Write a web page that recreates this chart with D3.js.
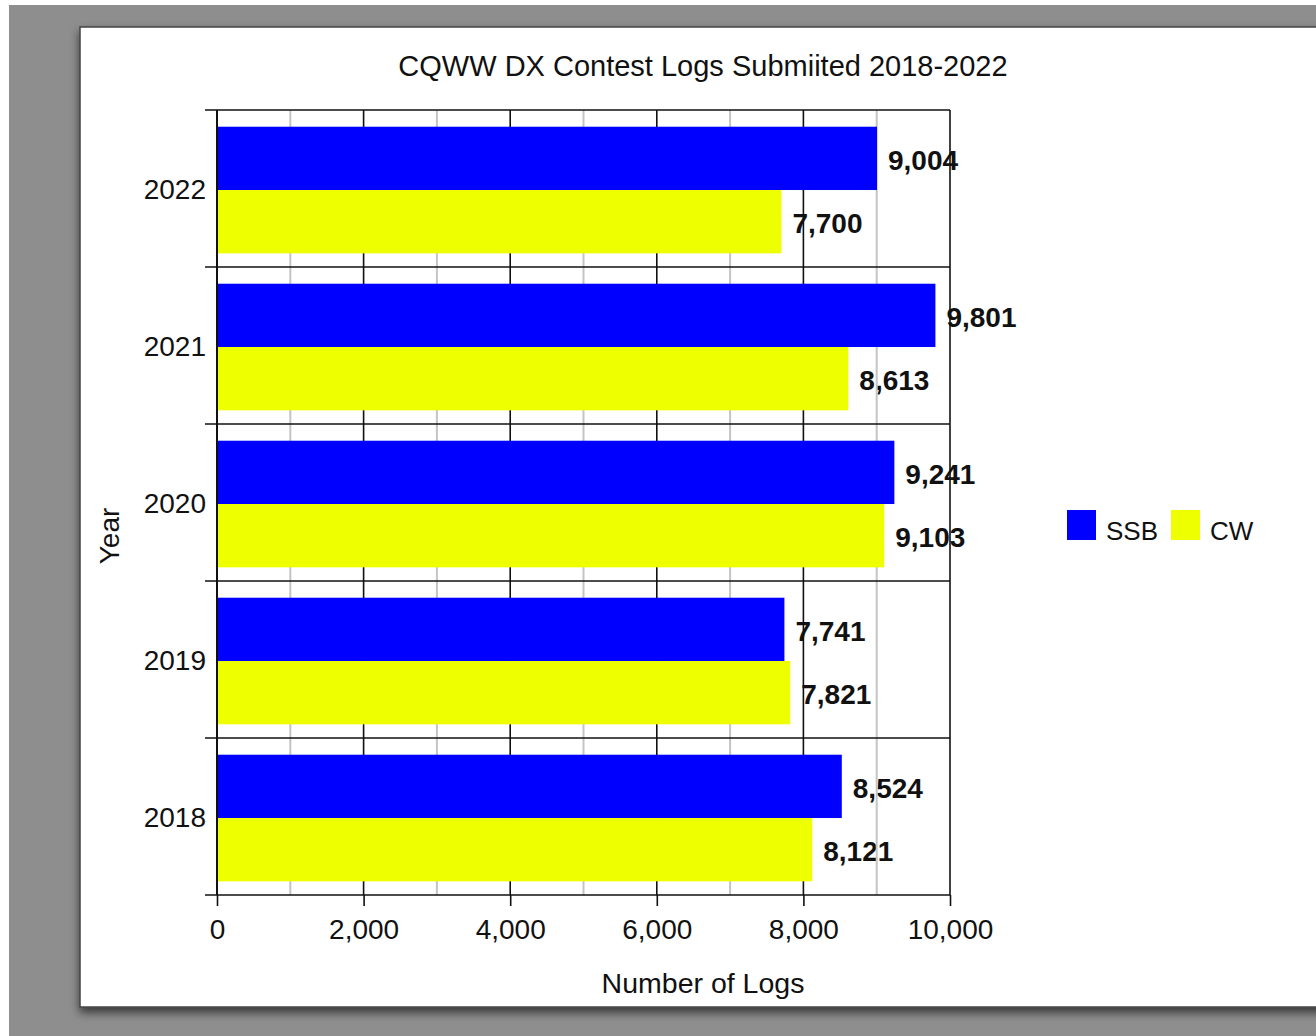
<!DOCTYPE html>
<html>
<head>
<meta charset="utf-8">
<script src="https://cdn.jsdelivr.net/npm/d3@7"></script>
<style>
  body { margin: 0; background: #fff; }
  text { font-family: "Liberation Sans", Arial, sans-serif; fill: #111; }
</style>
</head>
<body>
<div id="chart"></div>
<script>
const years = ['2018', '2019', '2020', '2021', '2022']
const seriesNames = ['SSB', 'CW']
const ssbLogs = [8524, 7741, 9241, 9801, 9004]
const cwLogs = [8121, 7821, 9103, 8613, 7700]
const majorTicks = [0, 2000, 4000, 6000, 8000, 10000]
const minorTicks = [1000, 3000, 5000, 7000, 9000]

const segColor = ['#0000ff', '#eeff00']
const W = 1316
const H = 1036
const plot = { left: 217, right: 950, top: 110, bottom: 895 }

const rows = years.map((yr, i) => ({ year: yr, values: [ssbLogs[i], cwLogs[i]] }))

const svg = d3.select('#chart').append('svg')
  .attr('width', W)
  .attr('height', H)

// panel shadow
const defs = svg.append('defs')
const f = defs.append('filter').attr('id', 'shadow')
  .attr('x', '-5%').attr('y', '-5%').attr('width', '110%').attr('height', '112%')
f.append('feDropShadow').attr('dx', 0).attr('dy', 5).attr('stdDeviation', 5)
  .attr('flood-color', '#000').attr('flood-opacity', 0.6)

svg.append('rect').attr('x', 9).attr('y', 5).attr('width', W).attr('height', H)
  .attr('fill', '#8e8e8e')
svg.append('rect').attr('x', 80).attr('y', 27).attr('width', 1300).attr('height', 980)
  .attr('fill', '#fff').attr('stroke', '#444').attr('stroke-width', 1.5)
  .attr('filter', 'url(#shadow)')

const x = d3.scaleLinear().domain([0, 10000]).range([plot.left, plot.right])
const y = d3.scaleBand().domain(years.slice().reverse()).range([plot.top, plot.bottom])
const ySub = d3.scaleBand().domain(seriesNames).range([0, y.bandwidth()])
  .paddingOuter(0.24).align(0.55)

// value labels (under the grid, like the original)
const labelGroups = svg.append('g').selectAll('g')
  .data(rows)
  .enter().append('g')
  .attr('transform', d => 'translate(0,' + y(d.year) + ')')

labelGroups.selectAll('text')
  .data(d => d.values)
  .enter().append('text')
  .attr('x', d => x(d) + 11)
  .attr('y', (d, i) => ySub(seriesNames[i]) + ySub.bandwidth() / 2)
  .attr('dy', '.4em')
  .style('font-size', '28px')
  .style('font-weight', 'bold')
  .text(d => d3.format(',')(d))

// grid
svg.selectAll('.minor')
  .data(minorTicks)
  .enter().append('line')
  .attr('class', 'minor')
  .attr('x1', d => x(d)).attr('x2', d => x(d))
  .attr('y1', plot.top).attr('y2', plot.bottom)
  .attr('stroke', '#c4c4c4').attr('stroke-width', 2)

svg.selectAll('.major')
  .data(majorTicks)
  .enter().append('line')
  .attr('class', 'major')
  .attr('x1', d => x(d)).attr('x2', d => x(d))
  .attr('y1', plot.top).attr('y2', plot.bottom)
  .attr('stroke', '#111').attr('stroke-width', 1.6)

const bounds = years.map(yr => y(yr)).concat([plot.bottom])
svg.selectAll('.hline')
  .data(bounds)
  .enter().append('line')
  .attr('class', 'hline')
  .attr('x1', plot.left - 12).attr('x2', plot.right)
  .attr('y1', d => d).attr('y2', d => d)
  .attr('stroke', '#111').attr('stroke-width', 1.6)

// bars, on top of the grid
const barGroups = svg.append('g').selectAll('g')
  .data(rows)
  .enter().append('g')
  .attr('transform', d => 'translate(0,' + y(d.year) + ')')

barGroups.selectAll('rect')
  .data(d => d.values)
  .enter().append('rect')
  .attr('x', x(0))
  .attr('y', (d, i) => ySub(seriesNames[i]))
  .attr('width', d => x(d) - x(0))
  .attr('height', ySub.bandwidth())
  .attr('fill', (d, i) => segColor[i])

// left border back on top of bars
svg.append('line')
  .attr('x1', plot.left).attr('x2', plot.left)
  .attr('y1', plot.top).attr('y2', plot.bottom)
  .attr('stroke', '#111').attr('stroke-width', 2)

// year labels
svg.selectAll('.ylab')
  .data(years)
  .enter().append('text')
  .attr('class', 'ylab')
  .attr('x', plot.left - 11)
  .attr('y', d => y(d) + y.bandwidth() / 2)
  .attr('dy', '.36em')
  .attr('text-anchor', 'end')
  .style('font-size', '28px')
  .text(d => d)

// x axis
const xAxis = d3.axisBottom(x)
  .tickValues(majorTicks)
  .tickSize(11)
  .tickPadding(13)
  .tickFormat(d3.format(','))

const ax = svg.append('g')
  .attr('transform', 'translate(0,' + plot.bottom + ')')
  .call(xAxis)
ax.select('.domain').remove()
ax.selectAll('line').attr('stroke', '#111').attr('stroke-width', 1.6)
ax.selectAll('text').style('font-size', '28px').style('font-family', '"Liberation Sans", Arial, sans-serif').attr('fill', '#111')

// titles
svg.append('text')
  .attr('x', 703).attr('y', 76)
  .attr('text-anchor', 'middle')
  .style('font-size', '29px')
  .text('CQWW DX Contest Logs Submiited 2018-2022')

svg.append('text')
  .attr('x', 703).attr('y', 993)
  .attr('text-anchor', 'middle')
  .style('font-size', '28.5px')
  .text('Number of Logs')

svg.append('text')
  .attr('transform', 'translate(119,536) rotate(-90)')
  .attr('text-anchor', 'middle')
  .style('font-size', '28px')
  .text('Year')

// legend
const legend = svg.selectAll('.legend')
  .data(seriesNames)
  .enter().append('g')
  .attr('class', 'legend')
  .attr('transform', (d, i) => 'translate(' + (1067 + i * 104) + ',510)')

legend.append('rect')
  .attr('width', 29).attr('height', 30)
  .attr('fill', (d, i) => segColor[i])

legend.append('text')
  .attr('x', 39).attr('y', 17)
  .attr('dy', '.5em')
  .style('font-size', '26px')
  .text(d => d)
</script>
</body>
</html>
